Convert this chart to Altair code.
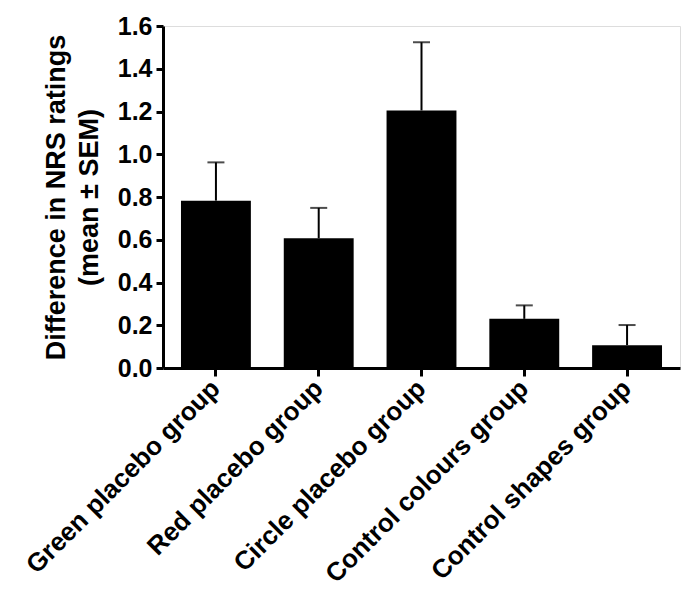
import altair as alt
import pandas as pd

groups = ["Green placebo group", "Red placebo group", "Circle placebo group",
          "Control colours group", "Control shapes group"]
means = [0.783, 0.607, 1.205, 0.230, 0.107]
upper = [0.962, 0.749, 1.524, 0.293, 0.201]

df = pd.DataFrame({"group": groups, "mean": means, "upper": upper})

FONT = "Liberation Sans"

x = alt.X("group:N", sort=groups, title=None,
          scale=alt.Scale(paddingInner=0.32, paddingOuter=0.175),
          axis=alt.Axis(labelAngle=-45, labelFontSize=26, labelFont=FONT,
                        labelFontWeight="bold", labelColor="black",
                        labelPadding=8, tickSize=8, tickWidth=3, tickColor="black",
                        domainWidth=3, domainColor="black", labelLimit=400))

y = alt.Y("mean:Q", title=["Difference in NRS ratings", "(mean ± SEM)"],
          scale=alt.Scale(domain=[0, 1.6], nice=False),
          axis=alt.Axis(values=[0, 0.2, 0.4, 0.6, 0.8, 1.0, 1.2, 1.4, 1.6],
                        format=".1f", grid=False, labelFontSize=25, labelFont=FONT,
                        labelFontWeight="bold", labelColor="black", labelPadding=4,
                        tickSize=7, tickWidth=3, tickColor="black",
                        domainWidth=3, domainColor="black",
                        titleFontSize=27, titleFont=FONT, titleFontWeight="bold",
                        titleColor="black", titlePadding=14, titleLineHeight=33))

bars = alt.Chart(df).mark_bar(color="black").encode(x=x, y=y)

err = alt.Chart(df).mark_rule(color="black", strokeWidth=2).encode(
    x=alt.X("group:N", sort=groups), y="mean:Q", y2="upper:Q")

caps = alt.Chart(df).mark_tick(color="black", size=17, thickness=2).encode(
    x=alt.X("group:N", sort=groups), y="upper:Q")

chart = alt.layer(err, bars, caps).properties(
    width=517, height=342,
    autosize=alt.AutoSizeParams(type="none"),
    padding={"left": 155, "top": 18, "right": 8, "bottom": 222},
).configure_view(stroke=None).configure(background="white")

chart.save("out.html", embed_options={"renderer": "svg", "actions": False})
